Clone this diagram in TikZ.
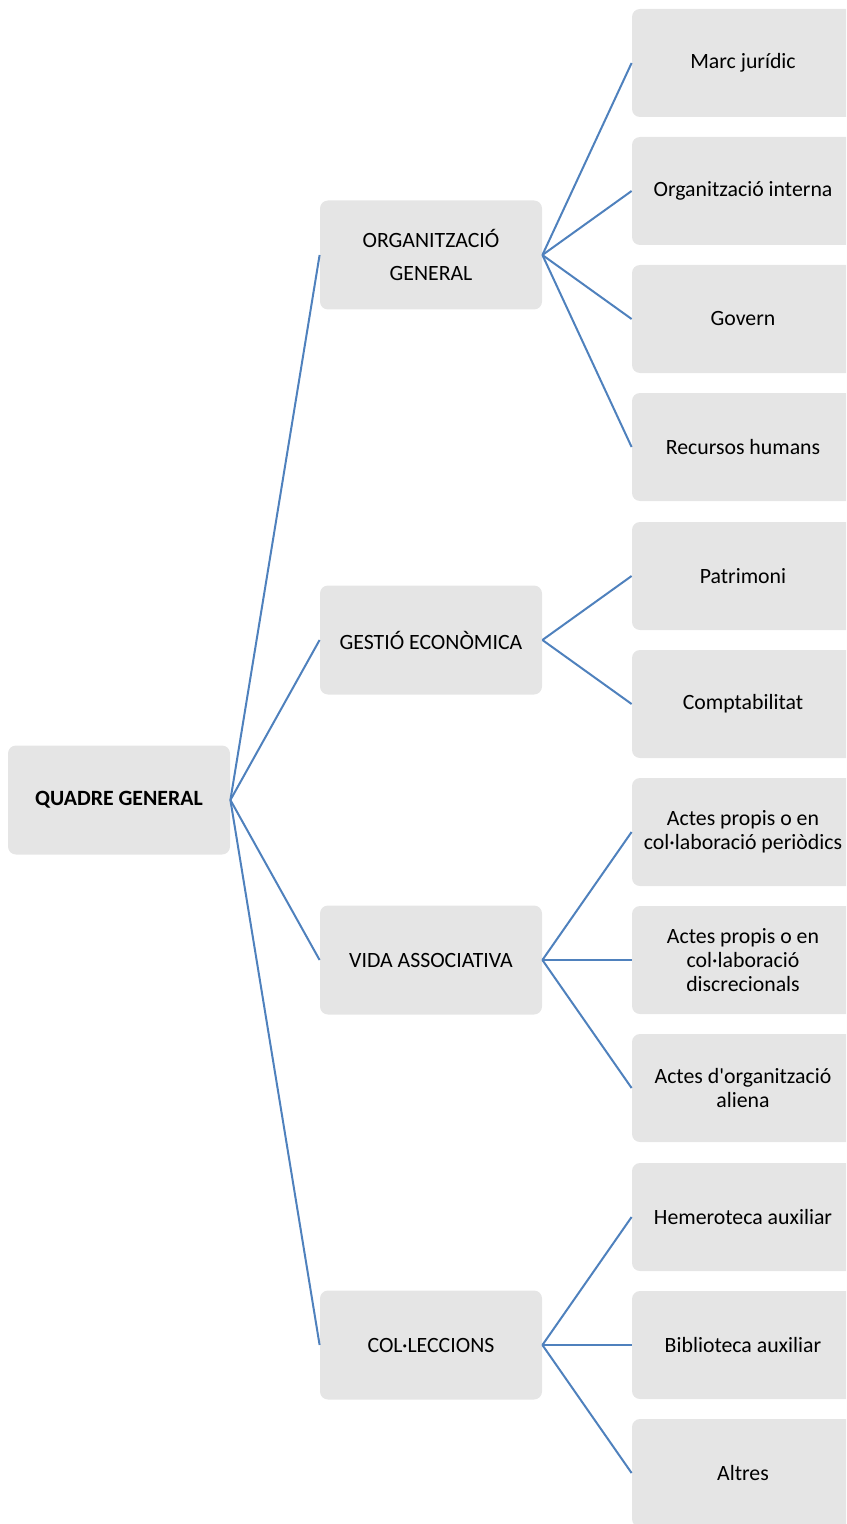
\documentclass[tikz,border=0pt]{standalone}
\usepackage{fontspec}
\setmainfont{Carlito}
\definecolor{linkblue}{HTML}{4F81BD}

\begin{document}
\begin{tikzpicture}[
			x=0.5pt, y=-0.5pt,
			root/.style={
				rectangle, rounded corners=4pt,
				fill=black!10,
				minimum width=111pt, minimum height=54.5pt,
				align=center, inner sep=2pt,
				font=\fontsize{10.9}{12}\selectfont\bfseries
			},
			area/.style={
				rectangle, rounded corners=4pt,
				fill=black!10,
				minimum width=111pt, minimum height=54.5pt,
				align=center, inner sep=2pt,
				font=\fontsize{10.9}{16.5}\selectfont
			},
			serie/.style={
				rectangle, rounded corners=4pt,
				fill=black!10,
				minimum width=111pt, minimum height=54pt,
				align=center, inner sep=2pt,
				font=\fontsize{10.9}{11.8}\selectfont
			},
			link/.style={draw=linkblue, line width=1pt}
			]
			\useasboundingbox (0,0) rectangle (846,1524);
			\clip (0,0) rectangle (846,1524);
			
			%% ── Root ────────────────────────────────────────────────
			\node[root] (quadre) at (119, 800) {QUADRE GENERAL};
			
			%% ── Areas (x=431) ──────────────────────────────────────
			\node[area] (org)  at (431,  255) {ORGANITZACIÓ\\GENERAL};
			\node[area] (gest) at (431,  640) {GESTIÓ ECONÒMICA};
			\node[area] (vida) at (431,  960) {VIDA ASSOCIATIVA};
			\node[area] (col)  at (431, 1345) {COL·LECCIONS};
			
			%% ── Series (x=743) ─────────────────────────────────────
			\node[serie] (marc)  at (743,   63) {Marc jurídic};
			\node[serie] (intern) at (743,  191) {Organització interna};
			\node[serie] (govern) at (743,  319) {Govern};
			\node[serie] (rrhh)   at (743,  447) {Recursos humans};
			\node[serie] (patr)   at (743,  576) {Patrimoni};
			\node[serie] (compt)  at (743,  704) {Comptabilitat};
			\node[serie] (period) at (743,  832) {Actes propis o en\\col·laboració periòdics};
			\node[serie] (discr)  at (743,  960) {Actes propis o en\\col·laboració\\discrecionals};
			\node[serie] (aliena) at (743, 1088) {Actes d\textquotesingle organització\\aliena};
			\node[serie] (hemer)  at (743, 1217) {Hemeroteca auxiliar};
			\node[serie] (biblio) at (743, 1345) {Biblioteca auxiliar};
			\node[serie] (altres) at (743, 1473) {Altres};
			
			%% Root → areas
			\foreach \b in {org, gest, vida, col}
			\draw[link] (quadre.east) -- (\b.west);
			
			%% Areas → series
			\foreach \a/\b in {org/marc, org/intern, org/govern, org/rrhh,
				gest/patr, gest/compt,
				vida/period, vida/discr, vida/aliena,
				col/hemer, col/biblio, col/altres}
			\draw[link] (\a.east) -- (\b.west);
			
		\end{tikzpicture}
\end{document}
